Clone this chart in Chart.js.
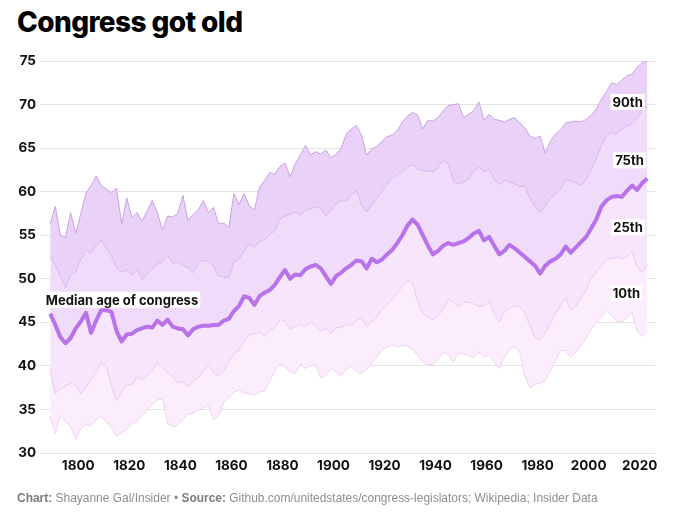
<!DOCTYPE html>
<html>
<head>
<meta charset="utf-8">
<script src="https://cdn.jsdelivr.net/npm/chart.js@4.4.0/dist/chart.umd.min.js"></script>
<style>
    html, body { margin: 0; padding: 0; background: #fff; }
    body { width: 697px; height: 519px; position: relative; overflow: hidden; font-family: Inter, "Noto Sans", sans-serif; }
    #title { position: absolute; left: 17px; top: 5px; font-size: 28px; font-weight: 800; color: #000; letter-spacing: -0.6px; line-height: 34px; }
    #wrap { position: absolute; left: 0; top: 0; width: 697px; height: 519px; }
    #footer { position: absolute; left: 17px; top: 490px; font-family: "Liberation Sans", sans-serif; font-size: 13px; color: #8e8e8e; white-space: nowrap; transform: scaleX(0.92); transform-origin: left top; }
    #footer b { color: #7c7c7c; }
</style>
</head>
<body>
<div id="title">Congress got old</div>
<div id="wrap"><canvas id="chart"></canvas></div>
<div id="footer"><b>Chart:</b> Shayanne Gal/Insider • <b>Source:</b> Github.com/unitedstates/congress-legislators; Wikipedia; Insider Data</div>
<script>
// years of each congress (every second year)
const years = [
    1789,1791,1793,1795,1797,1799,1801,1803,1805,1807,
    1809,1811,1813,1815,1817,1819,1821,1823,1825,1827,
    1829,1831,1833,1835,1837,1839,1841,1843,1845,1847,
    1849,1851,1853,1855,1857,1859,1861,1863,1865,1867,
    1869,1871,1873,1875,1877,1879,1881,1883,1885,1887,
    1889,1891,1893,1895,1897,1899,1901,1903,1905,1907,
    1909,1911,1913,1915,1917,1919,1921,1923,1925,1927,
    1929,1931,1933,1935,1937,1939,1941,1943,1945,1947,
    1949,1951,1953,1955,1957,1959,1961,1963,1965,1967,
    1969,1971,1973,1975,1977,1979,1981,1983,1985,1987,
    1989,1991,1993,1995,1997,1999,2001,2003,2005,2007,
    2009,2011,2013,2015,2017,2019,2021,2023
];

const p90 = [
    56.3,58.3,55.0,54.7,57.6,55.2,57.5,59.8,60.7,61.8,
    60.7,60.3,59.9,60.4,56.3,59.3,57.0,57.6,56.6,57.8,
    59.0,57.6,55.6,57.2,57.1,57.5,59.6,56.7,57.4,57.9,
    59.0,57.6,58.2,56.3,56.4,55.9,59.8,58.5,59.8,58.4,
    57.9,60.5,61.3,62.2,62.0,62.9,63.3,61.7,63.2,64.2,
    65.3,64.2,64.6,64.3,64.8,63.9,64.3,65.0,66.6,67.2,
    67.6,66.5,64.2,64.9,65.2,65.8,66.3,66.5,67.0,68.0,
    68.7,69.1,68.8,67.2,68.2,68.1,68.5,69.3,69.9,70.0,
    70.1,68.5,68.9,69.3,70.3,68.2,68.9,68.3,68.2,68.0,
    68.3,68.5,67.9,67.3,66.4,66.1,66.4,64.4,65.8,66.6,
    67.1,67.9,68.0,68.1,68.0,68.3,68.8,69.5,70.6,71.5,
    72.5,72.3,72.8,73.3,73.5,74.3,74.8,75.0
];

const p75 = [
    52.5,51.6,50.3,49.0,50.4,50.8,52.2,53.3,53.0,53.8,
    54.4,53.5,52.6,51.2,50.8,51.0,50.4,51.1,49.9,50.6,
    51.2,51.7,52.0,52.7,51.8,51.9,51.5,51.3,50.7,51.8,
    52.1,52.0,51.4,50.3,50.2,50.1,51.9,52.3,53.2,54.0,
    53.6,54.3,54.5,55.1,55.5,56.8,57.2,57.4,57.6,57.3,
    57.9,58.0,58.3,58.1,57.2,57.9,58.6,59.0,58.9,59.6,
    60.1,58.4,57.7,58.5,59.2,60.0,60.9,61.5,61.9,62.3,
    62.8,63.1,62.6,62.4,62.4,62.3,62.8,63.6,63.2,61.2,
    60.9,61.1,61.4,62.4,62.8,62.3,62.6,61.4,60.8,61.3,
    61.1,60.9,60.6,60.6,59.2,58.3,57.6,58.4,59.3,59.8,
    60.3,61.4,61.2,61.0,60.7,61.4,62.5,63.8,65.3,66.4,
    66.8,66.6,67.2,67.5,67.8,68.4,69.4,69.8
];

const median = [
    46.0,44.7,43.3,42.6,43.2,44.3,45.1,46.1,43.8,45.2,
    46.4,46.4,46.2,44.0,42.8,43.6,43.7,44.1,44.3,44.5,
    44.4,45.2,44.7,45.3,44.5,44.3,44.2,43.5,44.2,44.5,
    44.6,44.6,44.7,44.7,45.2,45.4,46.3,46.9,48.0,47.8,
    47.0,48.0,48.4,48.7,49.3,50.2,51.0,50.0,50.5,50.4,
    51.1,51.4,51.6,51.2,50.3,49.4,50.3,50.7,51.2,51.6,
    52.1,52.0,51.2,52.3,51.9,52.2,52.8,53.3,54.1,55.0,
    56.1,56.8,56.2,55.0,53.8,52.8,53.2,53.8,54.1,53.9,
    54.1,54.3,54.7,55.2,55.5,54.4,54.8,53.8,52.8,53.2,
    53.9,53.5,53.0,52.5,52.0,51.5,50.6,51.5,52.0,52.3,
    52.8,53.7,53.0,53.6,54.2,54.8,55.8,56.8,58.3,59.0,
    59.4,59.5,59.4,60.1,60.7,60.2,61.0,61.5
];

const p25 = [
    39.6,36.8,37.4,37.7,38.0,37.8,36.8,37.6,38.4,39.3,
    40.3,40.0,37.7,36.0,37.0,37.9,37.8,38.7,38.4,38.9,
    39.4,40.3,39.8,39.2,38.8,38.0,38.2,37.6,38.2,38.6,
    39.4,40.2,39.2,38.9,39.4,40.5,41.4,41.8,42.9,43.5,
    43.7,43.9,43.4,44.0,44.4,45.3,45.1,44.2,44.5,44.8,
    44.5,45.0,44.6,44.0,44.3,43.7,44.4,44.4,44.8,44.6,
    45.2,45.5,44.5,45.0,45.6,46.5,47.0,47.6,48.4,49.1,
    49.8,49.6,47.4,46.0,45.6,45.3,45.8,46.5,47.6,47.3,
    46.8,47.3,47.3,47.1,46.8,46.9,47.5,46.0,45.0,46.2,
    46.6,46.9,46.8,46.0,44.6,43.2,43.0,43.8,44.9,46.0,
    47.0,47.8,46.4,46.8,47.8,48.7,50.0,50.8,51.5,52.2,
    52.3,52.5,52.3,52.6,53.1,51.3,50.8,51.6
];

const p10 = [
    34.2,32.2,34.3,33.6,33.0,31.6,32.8,33.3,33.1,33.8,
    34.2,33.5,33.0,31.9,32.4,32.7,33.4,33.6,34.3,35.0,
    35.6,36.1,36.2,33.4,33.0,33.2,33.8,34.4,34.6,34.9,
    35.2,35.4,33.8,34.3,35.8,36.3,37.0,37.2,36.9,36.8,
    36.6,37.0,37.1,38.2,39.4,40.2,39.9,39.3,39.1,40.2,
    39.7,40.0,40.1,38.6,38.9,39.7,39.3,38.8,39.6,39.9,
    39.4,39.1,39.6,40.3,41.0,41.8,42.2,42.4,42.2,42.4,
    42.3,41.9,41.2,40.5,40.1,40.2,40.8,41.5,41.3,40.4,
    41.5,41.4,41.2,40.9,41.6,41.0,41.3,40.4,39.7,41.0,
    41.9,42.2,41.6,38.8,37.5,37.9,38.0,38.3,39.4,40.5,
    41.8,41.7,41.0,41.6,42.3,43.2,44.2,45.0,45.6,46.3,
    45.8,45.1,45.0,45.5,46.1,44.0,43.4,43.9
];

const xTicks = [1800, 1820, 1840, 1860, 1880, 1900, 1920, 1940, 1960, 1980, 2000, 2020];
const yTicks = [30, 35, 40, 45, 50, 55, 60, 65, 70, 75];

// zip years with values
function toPoints(values) {
    return years.map((yr, i) => ({ x: yr, y: values[i] }));
}

const TICK_FONT = { family: 'Inter, sans-serif', size: 13.5, weight: 'bold' };

// labels next to the lines
const lineLabels = {
    id: 'lineLabels',
    afterDatasetsDraw(chart) {
        const { ctx, scales: { x, y } } = chart;
        const items = [
            { text: '90th', year: 2021.2, val: 70.3, right: true },
            { text: '75th', year: 2021.6, val: 63.6, right: true },
            { text: '25th', year: 2021.2, val: 55.9, right: true },
            { text: '10th', year: 2020.2, val: 48.3, right: true },
            { text: 'Median age of congress', year: 1787.3, val: 47.6, right: false }
        ];
        ctx.save();
        ctx.font = 'bold 13px Inter, sans-serif';
        ctx.textBaseline = 'middle';
        ctx.textAlign = 'left';
        items.forEach(it => {
            const w = ctx.measureText(it.text).width;
            const px = x.getPixelForValue(it.year);
            const py = y.getPixelForValue(it.val);
            const left = it.right ? px - w : px;
            ctx.fillStyle = '#ffffff';
            ctx.fillRect(left - 2, py - 8, w + 4, 16);
            ctx.fillStyle = '#111111';
            ctx.fillText(it.text, left, py + 1);
        });
        ctx.restore();
    }
};

const ctx = document.getElementById('chart').getContext('2d');
new Chart(ctx, {
    type: 'line',
    data: {
        datasets: [
            {
                label: '90th',
                data: toPoints(p90),
                borderColor: '#c9a2e3',
                borderWidth: 1,
                backgroundColor: 'rgb(234, 209, 248)',
                fill: 1,
                order: 1
            },
            {
                label: '75th',
                data: toPoints(p75),
                borderColor: '#d9b7ee',
                borderWidth: 1,
                backgroundColor: 'rgb(240, 220, 250)',
                fill: 2,
                order: 1
            },
            {
                label: 'Median',
                data: toPoints(median),
                borderColor: '#b872ea',
                borderWidth: 4,
                backgroundColor: 'rgb(246, 229, 251)',
                fill: 3,
                order: -1
            },
            {
                label: '25th',
                data: toPoints(p25),
                borderColor: '#ecc9f1',
                borderWidth: 1,
                backgroundColor: 'rgb(251, 237, 252)',
                fill: 4,
                order: 1
            },
            {
                label: '10th',
                data: toPoints(p10),
                borderColor: '#f0d3f3',
                borderWidth: 1,
                fill: false,
                order: 1
            }
        ]
    },
    options: {
        responsive: true,
        maintainAspectRatio: false,
        animation: false,
        elements: {
            point: { radius: 0 },
            line: { tension: 0, borderJoinStyle: 'round' }
        },
        layout: { padding: { top: 61, left: 0, right: 42, bottom: 41 } },
        plugins: {
            legend: { display: false },
            tooltip: { enabled: false },
            filler: { drawTime: 'beforeDatasetsDraw' }
        },
        scales: {
            x: {
                type: 'linear',
                min: 1785,
                max: 2026,
                afterBuildTicks: s => { s.ticks = xTicks.map(v => ({ value: v })); },
                afterFit: s => { s.height = 25; },
                grid: { display: false, drawTicks: false },
                border: { display: false },
                ticks: {
                    color: '#111',
                    font: TICK_FONT,
                    padding: 5,
                    maxRotation: 0,
                    callback: v => String(v)
                }
            },
            y: {
                min: 30,
                max: 75,
                afterBuildTicks: s => { s.ticks = yTicks.map(v => ({ value: v })); },
                afterFit: s => { s.width = 40; },
                grid: { color: '#e3e3e3', lineWidth: 1, drawTicks: false },
                border: { display: false },
                ticks: {
                    color: '#111',
                    font: TICK_FONT,
                    padding: 4
                }
            }
        }
    },
    plugins: [lineLabels]
});
</script>
</body>
</html>
